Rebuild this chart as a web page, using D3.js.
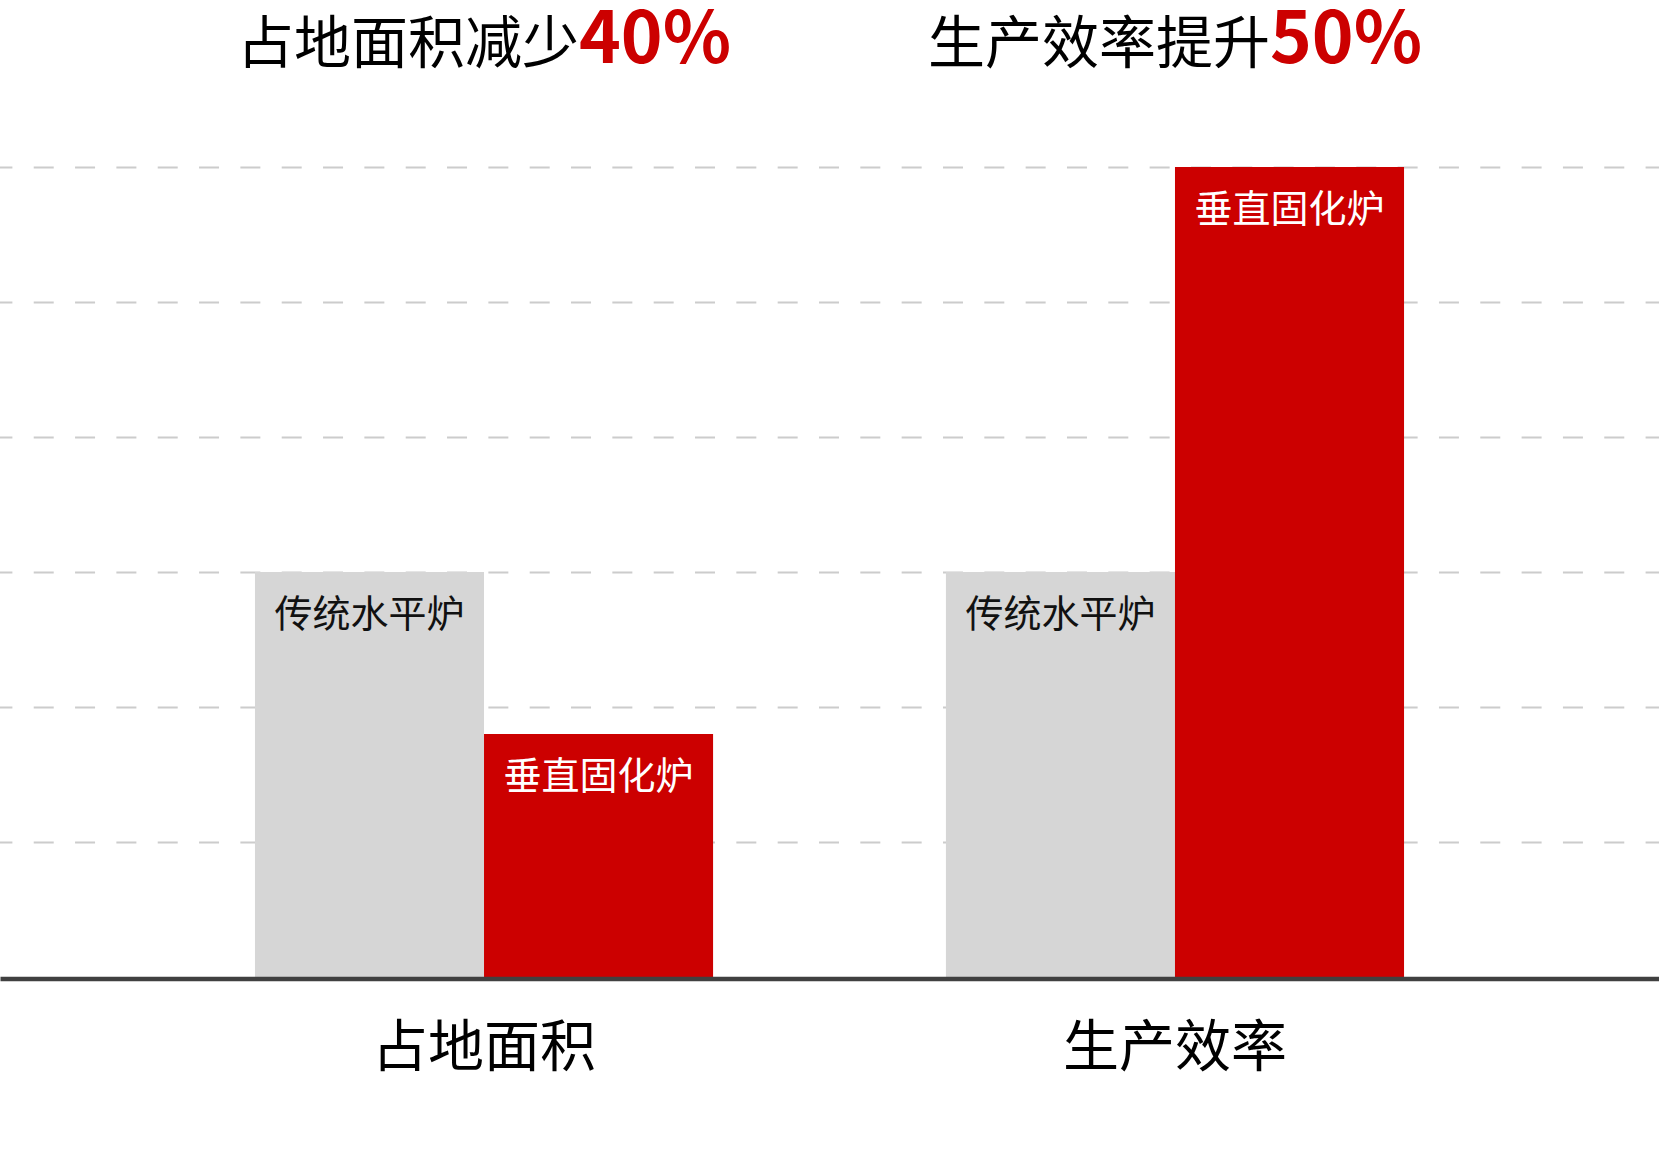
<!DOCTYPE html>
<html>
<head>
<meta charset="utf-8">
<script src="https://cdn.jsdelivr.net/npm/d3@7"></script>
<style>
  body { margin: 0; background: #fff; }
  svg { display: block; font-family: "Noto Sans CJK SC", "Noto Sans", sans-serif; }
</style>
</head>
<body>
<div id="chart"></div>
<script>
// Data
const categories = ["占地面积", "生产效率"];
const seriesNames = ["传统水平炉", "垂直固化炉"];
const traditional = [3, 3];
const vertical = [1.8, 6];
const titleTexts = ["占地面积减少", "生产效率提升"];
const titleHighlights = ["40%", "50%"];
const yTicks = [1, 2, 3, 4, 5, 6];

const width = 1659, height = 1150;
const colors = { "传统水平炉": "#d6d6d6", "垂直固化炉": "#cc0000" };
const labelColors = { "传统水平炉": "#111", "垂直固化炉": "#fff" };

const rows = categories.map((c, i) => ({
  category: c,
  values: [
    { series: seriesNames[0], value: traditional[i] },
    { series: seriesNames[1], value: vertical[i] }
  ]
}));

const svg = d3.select("#chart").append("svg")
  .attr("width", width)
  .attr("height", height);

// Scales
const x0 = d3.scaleBand()
  .domain(categories)
  .range([0, width])
  .paddingInner(0.337)
  .paddingOuter(0.369);

const x1 = d3.scaleBand()
  .domain(seriesNames)
  .range([0, x0.bandwidth()])
  .padding(0);

const y = d3.scaleLinear()
  .domain([0, 6])
  .range([977, 167]);

// Dashed gridlines
const grid = svg.append("g")
  .call(d3.axisRight(y).tickValues(yTicks).tickSize(width).tickFormat(""));
grid.select(".domain").remove();
grid.selectAll(".tick line")
  .attr("stroke", "#cccccc")
  .attr("stroke-width", 2)
  .attr("stroke-dasharray", "20,21.33")
  .attr("stroke-dashoffset", 7.6);

// Bars
const groups = svg.selectAll(".group")
  .data(rows)
  .enter()
  .append("g")
  .attr("class", "group")
  .attr("transform", d => `translate(${x0(d.category)},0)`);

groups.selectAll("rect")
  .data(d => d.values)
  .enter()
  .append("rect")
  .attr("x", d => x1(d.series))
  .attr("y", d => y(d.value))
  .attr("width", x1.bandwidth())
  .attr("height", d => y(0) - y(d.value))
  .attr("fill", d => colors[d.series]);

// Bar labels
groups.selectAll(".bar-label")
  .data(d => d.values)
  .enter()
  .append("text")
  .attr("class", "bar-label")
  .attr("x", d => x1(d.series) + x1.bandwidth() / 2)
  .attr("y", d => y(d.value) + 55)
  .attr("text-anchor", "middle")
  .attr("fill", d => labelColors[d.series])
  .style("font-size", "38px")
  .text(d => d.series);

// Bottom axis
const xAxis = svg.append("g")
  .attr("transform", `translate(0,${y(0) + 1.5})`)
  .call(d3.axisBottom(x0).tickSize(0).tickSizeOuter(0));
xAxis.select(".domain")
  .attr("stroke", "#404040")
  .attr("stroke-width", 4.5);
xAxis.selectAll(".tick text")
  .attr("y", 87)
  .attr("dy", 0)
  .attr("fill", "#000")
  .style("font-family", "'Noto Sans CJK SC', sans-serif")
  .style("font-size", "56px");

// Titles above each group
const titles = svg.selectAll(".title")
  .data(categories)
  .enter()
  .append("text")
  .attr("class", "title")
  .attr("x", d => x0(d) + x0.bandwidth() / 2)
  .attr("y", 63)
  .attr("text-anchor", "middle");

titles.append("tspan")
  .attr("fill", "#000")
  .style("font-size", "57px")
  .text((d, i) => titleTexts[i]);

titles.append("tspan")
  .attr("fill", "#cc0000")
  .style("font-size", "71px")
  .style("font-weight", 700)
  .text((d, i) => titleHighlights[i]);
</script>
</body>
</html>
